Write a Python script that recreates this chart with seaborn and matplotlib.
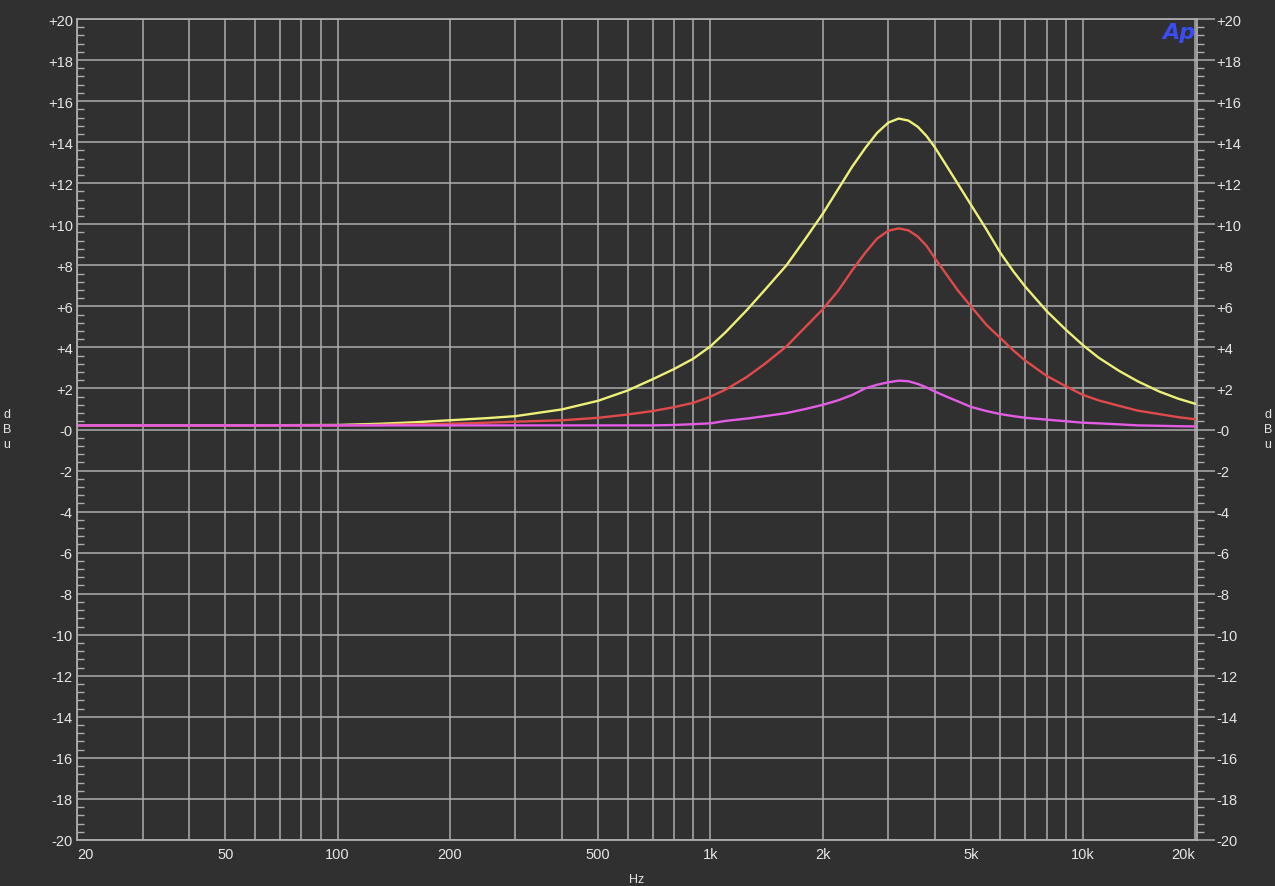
import numpy as np
import pandas as pd
import seaborn as sns
import matplotlib.pyplot as plt
from matplotlib.ticker import MultipleLocator

# Frequency response readings (Hz / dBu)
freq = [20, 50, 100, 130, 160, 200, 250, 300, 400, 500, 600, 700, 800, 900,
        1000, 1100, 1250, 1400, 1600, 1800, 2000, 2200, 2400, 2600, 2800, 3000,
        3200, 3400, 3600, 3800, 4000, 4300, 4600, 5000, 5500, 6000, 6500, 7000,
        8000, 9000, 10000, 11000, 12500, 14000, 16000, 18000, 20000]

yellow = [0.2, 0.2, 0.22, 0.28, 0.35, 0.45, 0.55, 0.65, 0.98, 1.4, 1.9, 2.45, 2.95, 3.45,
          4.05, 4.75, 5.8, 6.8, 8.0, 9.3, 10.5, 11.7, 12.8, 13.7, 14.45, 14.95,
          15.15, 15.05, 14.75, 14.3, 13.75, 12.85, 12.0, 10.95, 9.75, 8.6, 7.7, 6.95,
          5.75, 4.85, 4.1, 3.5, 2.85, 2.35, 1.85, 1.5, 1.25]

red = [0.2, 0.2, 0.2, 0.22, 0.25, 0.28, 0.33, 0.38, 0.45, 0.57, 0.73, 0.9, 1.09, 1.3,
       1.6, 1.95, 2.55, 3.2, 4.05, 5.0, 5.85, 6.75, 7.75, 8.6, 9.3, 9.68,
       9.8, 9.7, 9.4, 8.95, 8.35, 7.55, 6.8, 6.0, 5.1, 4.45, 3.85, 3.35,
       2.6, 2.1, 1.68, 1.42, 1.15, 0.92, 0.75, 0.6, 0.5]

magenta = [0.2, 0.2, 0.2, 0.2, 0.2, 0.2, 0.2, 0.2, 0.2, 0.2, 0.2, 0.2, 0.22, 0.26,
           0.3, 0.42, 0.53, 0.65, 0.8, 1.0, 1.2, 1.42, 1.68, 2.0, 2.18, 2.3,
           2.38, 2.35, 2.22, 2.05, 1.85, 1.6, 1.38, 1.1, 0.9, 0.75, 0.65, 0.57,
           0.48, 0.4, 0.33, 0.3, 0.25, 0.2, 0.18, 0.16, 0.15]

x_grid = [20, 30, 40, 50, 60, 70, 80, 90, 100, 200, 300, 400, 500, 600, 700, 800, 900,
          1000, 2000, 3000, 4000, 5000, 6000, 7000, 8000, 9000, 10000, 20000]
x_labels = {20: '20', 50: '50', 100: '100', 200: '200', 500: '500', 1000: '1k',
            2000: '2k', 5000: '5k', 10000: '10k', 20000: '20k'}
y_ticks = list(range(-20, 21, 2))
y_labels = [f'+{v}' if v > 0 else ('-0' if v == 0 else str(v)) for v in y_ticks]

bg = '#303030'
grid_c = '#adadad'
text_c = '#e6e6e6'

sns.set_style('dark', rc={'axes.facecolor': bg, 'figure.facecolor': bg,
                          'axes.edgecolor': grid_c, 'grid.color': grid_c})
plt.rcParams['font.family'] = ['Liberation Sans', 'DejaVu Sans']

df = pd.DataFrame({'Hz': freq * 3,
                   'dB': yellow + red + magenta,
                   'trace': ['a'] * len(freq) + ['b'] * len(freq) + ['c'] * len(freq)})

fig = plt.figure(figsize=(12.75, 8.87), dpi=100)
ax = fig.add_axes([77 / 1275, 1 - 841 / 887, 1120 / 1275, 821 / 887])

sns.lineplot(data=df, x='Hz', y='dB', hue='trace',
             palette=['#eef07a', '#e04a4a', '#e25ce4'],
             linewidth=1.7, legend=False, ax=ax)

ax.set_xscale('log')
ax.set_xlim(20, 20200)
ax.set_ylim(-20, 20)
ax.set_xticks(x_grid)
ax.set_xticks([], minor=True)
ax.set_xticklabels([x_labels.get(v, '') for v in x_grid])
labs = ax.get_xticklabels()
labs[0].set_ha('left')
labs[-1].set_ha('right')
ax.set_yticks(y_ticks)
ax.set_yticklabels(y_labels)
ax.yaxis.set_minor_locator(MultipleLocator(0.4))
ax.grid(True, which='major', color=grid_c, linewidth=1.1)
ax.tick_params(axis='x', length=0, pad=5, labelsize=10.5, colors=text_c)
ax.tick_params(axis='y', which='major', length=0, pad=3, labelsize=10.5, colors=text_c)
ax.tick_params(axis='y', which='minor', direction='in', length=5, width=1, color=grid_c,
               left=True, right=False)
ax.set_xlabel('')
ax.set_ylabel('')
for s in ax.spines.values():
    s.set_color(grid_c)
    s.set_linewidth(1.3)

# right-hand dB scale
ax2 = ax.twinx()
ax2.set_ylim(-20, 20)
ax2.set_yticks(y_ticks)
ax2.set_yticklabels(y_labels)
ax2.yaxis.set_minor_locator(MultipleLocator(0.4))
ax2.tick_params(axis='y', which='major', direction='out', length=13, width=1.1,
                color=grid_c, pad=1, labelsize=10.5, colors=text_c)
ax2.tick_params(axis='y', which='minor', direction='out', length=5, width=1, color=grid_c)
ax2.grid(False)
for s in ax2.spines.values():
    s.set_visible(False)

fig.text(637 / 1275, 1 - 880 / 887, 'Hz', color=text_c, fontsize=9, ha='center', va='center')
fig.text(7 / 1275, 1 - 430 / 887, 'd\nB\nu', color=text_c, fontsize=9, ha='center',
         va='center', linespacing=1.3)
fig.text(1268 / 1275, 1 - 430 / 887, 'd\nB\nu', color=text_c, fontsize=9, ha='center',
         va='center', linespacing=1.3)
fig.text(1179 / 1275, 1 - 33 / 887, 'Ap', color='#3a4cf2', fontsize=16, fontweight='bold',
         fontstyle='italic', ha='center', va='center', family='DejaVu Sans')

fig.savefig('out.png', dpi=100, facecolor=bg)
